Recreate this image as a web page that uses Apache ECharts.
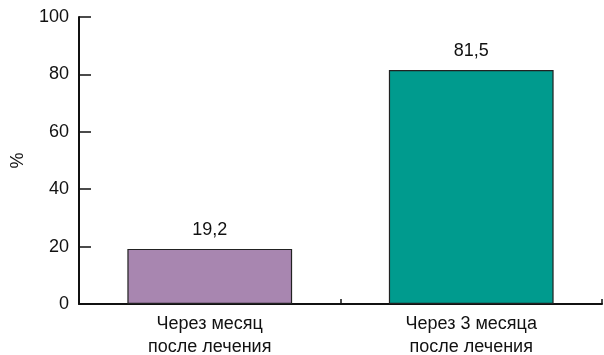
<!DOCTYPE html>
<html>
<head>
<meta charset="utf-8">
<script src="https://cdn.jsdelivr.net/npm/echarts@6/dist/echarts.min.js"></script>
<style>
    html, body { margin: 0; padding: 0; background: #fff; }
    #chart { width: 604px; height: 355px; }
</style>
</head>
<body>
<div id="chart"></div>
<script>
// данные диаграммы
var categories = ['Через месяц\nпосле лечения', 'Через 3 месяца\nпосле лечения'];
var values = [19.2, 81.5];
var barColors = ['#a886b0', '#009b8e'];
var yTicks = [0, 20, 40, 60, 80, 100];

function init() {
    let chart = echarts.init(document.getElementById('chart'));
    let option = {
        animation: false,
        textStyle: {
            fontFamily: 'Liberation Sans, Arial, sans-serif',
            color: '#111'
        },
        grid: {
            top: 17,
            left: 79,
            right: 2,
            bottom: 51,
            outerBoundsMode: 'none',
            containLabel: false
        },
        xAxis: {
            type: 'category',
            data: categories,
            axisLine: {
                lineStyle: {color: '#111', width: 2}
            },
            axisTick: {
                show: true,
                inside: true,
                length: 5,
                lineStyle: {color: '#111', width: 1.5}
            },
            axisLabel: {
                fontSize: 18,
                color: '#111',
                lineHeight: 23,
                margin: 9,
                hideOverlap: false
            }
        },
        yAxis: {
            type: 'value',
            min: yTicks[0],
            max: yTicks[yTicks.length - 1],
            interval: yTicks[1] - yTicks[0],
            name: '%',
            nameLocation: 'middle',
            nameRotate: 90,
            nameGap: 52,
            nameTextStyle: {fontSize: 18, color: '#111'},
            splitLine: {show: false},
            axisLine: {
                show: true,
                lineStyle: {color: '#111', width: 2}
            },
            axisTick: {
                show: true,
                inside: true,
                length: 12,
                lineStyle: {color: '#111', width: 1.5}
            },
            axisLabel: {
                fontSize: 18,
                color: '#111',
                margin: 10
            }
        },
        series: [
            {
                type: 'bar',
                barWidth: '63%',
                data: values.map(function (v, i) {
                    return {
                        value: v,
                        itemStyle: {color: barColors[i]}
                    };
                }),
                itemStyle: {
                    borderColor: '#222',
                    borderWidth: 1.2
                },
                label: {
                    show: true,
                    position: 'top',
                    distance: 10,
                    fontSize: 18,
                    color: '#111',
                    formatter: function (p) {
                        return String(p.value).replace('.', ',');
                    }
                }
            }
        ]
    };
    chart.setOption(option);
}

init();
</script>
</body>
</html>
